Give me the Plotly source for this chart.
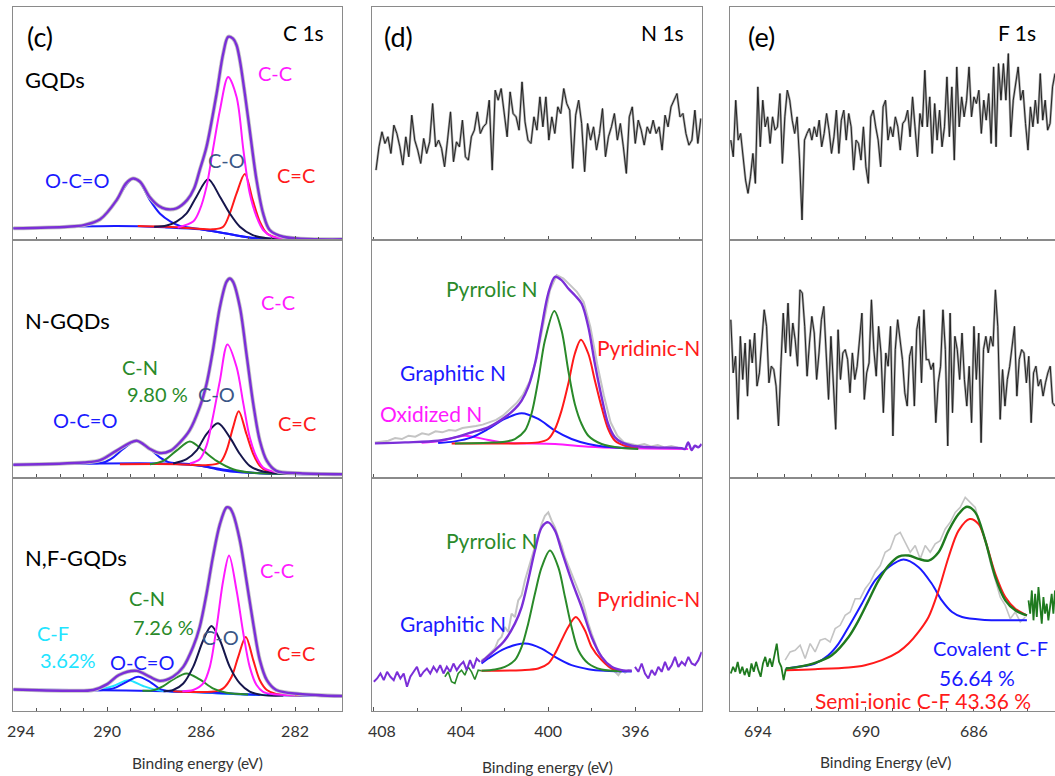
import numpy as np
import plotly.graph_objects as go

W, H = 1055, 776
FONT = "Lato, 'Open Sans', sans-serif"

# ======================= C 1s =======================
# --- GQDs ---
C1_GQD_ENV_E = [294.0, 291.7, 291.0, 290.3, 289.6, 289.2, 288.9, 288.6, 288.2, 287.8, 287.5, 287.05, 286.6, 286.3, 286.06, 285.77, 285.34, 285.06, 284.85, 284.64, 284.49, 284.35, 284.14, 283.93, 283.64, 283.36, 283.08, 282.5, 280.0]
C1_GQD_ENV_I = [5.0, 5.7, 6.4, 8.9, 17.1, 24.3, 26.4, 25.0, 18.6, 14.6, 13.3, 13.6, 17.1, 22.1, 30.0, 40.0, 62.9, 80.0, 87.2, 86.4, 83.6, 77.1, 62.9, 47.1, 25.7, 11.4, 4.3, 1.4, 0.3]
C1_GQD_BG_E = [294.0, 289.6, 287.5, 286.06, 285.0, 284.2, 283.5, 280.0]
C1_GQD_BG_I = [5.0, 6.0, 5.4, 4.6, 2.9, 1.4, 0.6, 0.3]
C1_GQD_OCO_E = [294.0, 291.0, 290.3, 289.6, 289.2, 288.89, 288.6, 288.18, 287.76, 287.3, 286.9, 286.0, 285.0, 284.0, 283.0, 280.0]
C1_GQD_OCO_I = [5.0, 6.3, 8.7, 17.1, 23.5, 26.4, 24.5, 17.1, 11.4, 7.9, 6.0, 4.6, 2.9, 1.2, 0.5, 0.3]
C1_GQD_CO_E = [288.0, 287.47, 287.05, 286.62, 286.2, 285.7, 285.2, 284.78, 284.35, 283.8, 283.2, 282.0]
C1_GQD_CO_I = [5.7, 6.2, 7.9, 11.4, 18.6, 26.1, 18.6, 11.4, 5.7, 2.1, 0.8, 0.4]
C1_GQD_CC_E = [287.0, 286.34, 286.06, 285.77, 285.5, 285.2, 284.85, 284.49, 284.2, 283.93, 283.64, 283.36, 282.95, 282.0]
C1_GQD_CC_I = [5.4, 7.9, 12.9, 22.9, 38.6, 55.7, 70.0, 61.4, 38.6, 20.0, 10.0, 4.3, 1.4, 0.5]
C1_GQD_CEC_E = [288.7, 287.0, 285.5, 285.06, 284.78, 284.49, 284.14, 283.8, 283.5, 283.2, 282.8, 281.0]
C1_GQD_CEC_I = [6.0, 5.5, 4.6, 5.7, 11.4, 20.0, 28.3, 17.1, 7.9, 2.9, 1.1, 0.4]

# --- N-GQDs ---
C1_N_ENV_E = [294.0, 291.0, 290.3, 289.6, 288.75, 288.18, 287.76, 287.3, 286.9, 286.5, 286.06, 285.77, 285.5, 285.2, 284.92, 284.78, 284.64, 284.35, 284.07, 283.78, 283.5, 283.2, 282.8, 281.8, 280.0]
C1_N_ENV_I = [5.4, 6.3, 7.3, 11.3, 15.5, 12.0, 10.3, 11.3, 14.8, 19.7, 29.6, 39.4, 53.5, 71.8, 82.4, 83.8, 82.4, 71.8, 52.1, 31.0, 15.5, 7.0, 2.8, 1.8, 1.4]
C1_N_BG_E = [294.0, 287.5, 286.06, 285.34, 284.64, 283.2, 280.0]
C1_N_BG_I = [5.4, 5.9, 4.9, 3.5, 2.4, 1.7, 1.4]
C1_N_OCO_E = [294.0, 291.0, 290.17, 289.74, 289.32, 288.75, 288.18, 287.76, 287.33, 286.5, 285.0, 283.5, 280.0]
C1_N_OCO_I = [5.4, 6.0, 6.3, 8.5, 12.0, 15.5, 12.0, 8.5, 6.3, 5.7, 3.3, 1.8, 1.4]
C1_N_CN_E = [288.18, 287.61, 287.05, 286.48, 285.91, 285.34, 284.64, 283.93, 282.5]
C1_N_CN_I = [5.6, 7.0, 11.3, 15.2, 11.3, 7.0, 3.5, 2.1, 1.6]
C1_N_CO_E = [287.19, 286.62, 286.2, 285.77, 285.28, 284.78, 284.35, 283.93, 283.36, 282.0]
C1_N_CO_I = [5.9, 7.7, 11.3, 18.3, 22.8, 16.9, 9.9, 4.9, 2.5, 1.5]
C1_N_CC_E = [286.48, 286.06, 285.77, 285.5, 285.2, 284.88, 284.49, 284.2, 283.93, 283.64, 283.36, 282.93, 281.5]
C1_N_CC_I = [5.9, 7.7, 13.4, 25.4, 40.8, 56.0, 46.5, 31.0, 16.9, 8.5, 4.2, 2.5, 1.6]
C1_N_CEC_E = [289.46, 287.0, 285.8, 285.2, 284.92, 284.64, 284.4, 284.07, 283.78, 283.5, 283.2, 282.5, 281.0]
C1_N_CEC_I = [5.6, 5.6, 5.2, 6.3, 11.3, 21.1, 27.9, 18.3, 9.9, 4.9, 2.8, 1.8, 1.5]

# --- N,F-GQDs ---
C1_NF_ENV_E = [294.0, 291.7, 290.6, 290.0, 289.5, 288.75, 288.2, 287.76, 287.2, 286.76, 286.34, 286.06, 285.77, 285.5, 285.2, 284.92, 284.78, 284.64, 284.35, 284.07, 283.78, 283.5, 283.2, 282.8, 281.8, 280.0]
C1_NF_ENV_I = [9.2, 8.7, 9.0, 11.5, 15.4, 17.2, 14.7, 12.9, 14.7, 18.9, 27.5, 36.0, 50.2, 65.9, 80.0, 87.2, 86.9, 84.4, 73.0, 55.9, 37.4, 21.8, 13.2, 9.0, 7.3, 6.4]
C1_NF_BG_E = [294.0, 290.3, 287.5, 286.06, 284.64, 283.2, 280.0]
C1_NF_BG_I = [9.2, 8.9, 8.5, 8.0, 7.3, 6.8, 6.4]
C1_NF_CF_E = [291.0, 290.31, 289.74, 289.1, 288.47, 287.9, 287.0, 286.0, 284.6, 283.2]
C1_NF_CF_I = [9.0, 9.2, 10.7, 13.2, 10.7, 9.0, 8.4, 8.0, 7.3, 6.8]
C1_NF_OCO_E = [290.6, 290.17, 289.74, 289.17, 288.68, 288.18, 287.76, 287.33, 286.5, 285.0, 283.5]
C1_NF_OCO_I = [8.9, 9.0, 9.7, 12.5, 14.7, 12.5, 9.5, 8.5, 8.2, 7.6, 6.9]
C1_NF_CN_E = [288.5, 288.04, 287.61, 287.19, 286.62, 286.06, 285.5, 284.92, 284.0]
C1_NF_CN_I = [8.7, 8.9, 10.7, 13.5, 16.1, 13.5, 9.7, 7.8, 7.1]
C1_NF_CO_E = [287.6, 287.19, 286.76, 286.34, 285.91, 285.56, 285.2, 284.78, 284.35, 283.93, 283.36, 282.5]
C1_NF_CO_I = [8.5, 9.0, 11.8, 18.9, 30.3, 36.4, 30.3, 18.9, 11.8, 8.3, 6.8, 6.6]
C1_NF_CC_E = [286.8, 286.34, 285.91, 285.63, 285.34, 285.06, 284.81, 284.49, 284.2, 283.93, 283.64, 283.36, 282.93, 282.0]
C1_NF_CC_I = [8.5, 9.0, 11.8, 18.9, 36.0, 55.9, 66.6, 51.6, 33.1, 18.9, 11.1, 8.2, 7.2, 6.8]
C1_NF_CEC_E = [287.19, 286.0, 285.34, 285.06, 284.7, 284.42, 284.1, 283.78, 283.5, 283.2, 282.8, 281.5]
C1_NF_CEC_I = [8.5, 8.1, 8.5, 9.7, 14.7, 23.2, 31.7, 21.8, 13.2, 9.0, 7.3, 6.8]

# ======================= N 1s =======================
# --- GQDs (noise only), energy grid 407.9 -> 393.0 eV ---
N1_GQD_I = [210, 280, 325, 290, 310, 260, 345, 320, 280, 225,
            310, 250, 375, 300, 270, 230, 305, 260, 295, 410,
            280, 300, 275, 220, 300, 385, 235, 295, 280, 360,
            250, 240, 310, 330, 385, 320, 340, 350, 420, 210,
            450, 420, 455, 390, 310, 445, 380, 370, 330, 475,
            355, 300, 290, 370, 330, 430, 340, 430, 300, 370,
            320, 400, 380, 455, 410, 390, 215, 375, 420, 350,
            205, 350, 300, 340, 270, 320, 395, 250, 310, 340,
            380, 300, 350, 280, 200, 370, 400, 290, 360, 330,
            285, 340, 320, 360, 320, 340, 270, 375, 340, 400,
            420, 440, 370, 380, 320, 285, 300, 390, 290, 365]

# --- N-GQDs ---
N1_N_RAW_I = [105, 108, 110, 118, 115, 125, 122, 132, 128, 138,
              135, 142, 140, 148, 150, 154, 158, 165, 172, 185,
              203, 222, 248, 288, 355, 458, 560, 605, 595, 575,
              555, 525, 450, 340, 245, 165, 125, 105, 100, 96,
              100, 93, 97, 90, 94, 89]
N1_N_ENV_E = [407.95, 406.57, 405.05, 404.28, 403.51, 402.75, 401.99, 401.53, 401.22, 400.92, 400.61, 400.30, 400.0, 399.69, 399.39, 399.08, 398.78, 398.47, 398.16, 397.86, 397.55, 397.25, 396.94, 396.63, 396.17, 395.11, 393.88, 393.73, 393.58, 393.42, 393.27, 393.12, 392.96]
N1_N_ENV_I = [102, 105, 110, 120, 135, 150, 180, 205, 230, 270, 340, 450, 550, 600, 590, 565, 545, 520, 450, 340, 240, 160, 120, 105, 95, 90, 88, 85, 105, 82, 95, 90, 100]
N1_N_OX_E = [405.81, 404.89, 403.82, 402.75, 401.99, 399.69, 398.16, 396.63, 393.58]
N1_N_OX_I = [104, 110, 125, 112, 104, 100, 92, 88, 85]
N1_N_GR_E = [405.05, 404.28, 403.51, 402.75, 401.99, 401.22, 400.46, 399.69, 398.93, 398.16, 397.40, 396.17]
N1_N_GR_I = [103, 108, 120, 145, 175, 192, 175, 140, 115, 100, 92, 88]
N1_N_PY_E = [404.28, 402.75, 401.99, 401.53, 401.07, 400.77, 400.46, 400.15, 399.72, 399.39, 399.08, 398.78, 398.47, 398.16, 397.55, 396.63, 395.87]
N1_N_PY_I = [102, 104, 107, 115, 140, 190, 290, 410, 498, 440, 320, 220, 160, 125, 100, 88, 85]
N1_N_PD_E = [404.43, 401.53, 400.46, 400.0, 399.69, 399.39, 399.08, 398.78, 398.5, 398.16, 397.86, 397.55, 397.25, 396.94, 396.48, 395.87]
N1_N_PD_I = [102, 102, 105, 115, 145, 200, 280, 370, 412, 370, 290, 210, 145, 110, 95, 90]

# --- N,F-GQDs ---
N1_NF_LEFT_I = [88, 98, 113, 93, 118, 103, 93, 118, 98, 113,
                73, 103, 118, 133, 103, 118, 128, 113, 133, 118,
                138, 113, 133, 118, 143, 123, 138, 148, 123, 153,
                128, 158, 148]
N1_NF_GNOISE_I = [103, 118, 88, 83, 113, 123, 108, 133, 118, 95, 123, 121]
N1_NF_RAW_I = [153, 158, 168, 178, 188, 213, 223, 253, 238, 293,
               283, 333, 348, 393, 428, 463, 498, 533, 563, 588,
               598, 573, 553, 523, 498, 463, 438, 408, 383, 363,
               338, 303, 263, 233, 203, 178, 163, 148, 133, 128,
               118, 108, 123, 115, 123, 121]
N1_NF_ENV_E = [403.06, 402.44, 401.99, 401.53, 401.22, 400.92, 400.61, 400.30, 400.0, 399.69, 399.39, 398.93, 398.47, 398.01, 397.55, 397.09, 396.63, 396.17]
N1_NF_ENV_I = [148, 183, 213, 263, 313, 393, 483, 553, 568, 543, 483, 393, 313, 223, 163, 133, 123, 121]
N1_NF_RIGHT_I = [133, 118, 143, 113, 98, 123, 108, 133, 118, 148, 123, 138, 163, 133, 148, 138, 163, 143, 138, 153, 178]
N1_NF_GR_E = [403.06, 402.75, 401.99, 401.07, 400.30, 399.69, 398.93, 398.16, 397.40, 396.17]
N1_NF_GR_I = [143, 158, 188, 203, 188, 163, 138, 126, 121, 119]
N1_NF_PY_E = [403.06, 402.44, 401.99, 401.53, 401.22, 400.92, 400.61, 400.30, 399.92, 399.54, 399.23, 398.93, 398.62, 398.16, 397.55, 396.63]
N1_NF_PY_I = [121, 125, 133, 153, 193, 263, 353, 433, 483, 433, 343, 253, 183, 143, 125, 120]
N1_NF_PD_E = [403.06, 401.22, 400.46, 400.0, 399.69, 399.39, 399.08, 398.73, 398.32, 398.01, 397.55, 397.09, 396.63]
N1_NF_PD_I = [121, 123, 128, 143, 173, 213, 253, 283, 243, 193, 153, 128, 121]

# ======================= F 1s =======================
F1_GQD_I = [300, 250, 420, 300, 320, 250, 180, 140, 190, 260,
            170, 460, 280, 420, 340, 370, 290, 370, 330, 340,
            440, 230, 370, 450, 420, 360, 320, 370, 240, 60,
            300, 320, 335, 300, 340, 310, 360, 280, 320, 380,
            330, 260, 310, 390, 260, 360, 390, 300, 380, 340,
            210, 300, 290, 240, 340, 220, 170, 370, 390, 340,
            300, 220, 400, 420, 300, 340, 310, 370, 340, 270,
            350, 360, 390, 310, 430, 340, 250, 380, 340, 510,
            340, 430, 260, 410, 300, 390, 280, 340, 490, 310,
            460, 240, 520, 340, 430, 370, 420, 520, 370, 430,
            410, 450, 320, 420, 360, 440, 290, 520, 280, 530,
            420, 530, 420, 560, 310, 420, 470, 520, 420, 450,
            350, 270, 400, 340, 420, 350, 500, 360, 420, 330,
            350, 460, 500]
F1_N_I = [475, 315, 365, 175, 425, 295, 405, 245, 415, 345,
          435, 275, 315, 415, 505, 455, 285, 335, 325, 275,
          155, 335, 495, 375, 525, 365, 465, 415, 335, 565,
          555, 455, 305, 405, 485, 435, 295, 375, 475, 515,
          355, 235, 425, 285, 145, 445, 295, 375, 385, 355,
          255, 375, 295, 335, 405, 495, 235, 315, 345, 535,
          385, 305, 455, 375, 195, 375, 335, 455, 125, 385,
          475, 415, 355, 255, 215, 365, 395, 215, 445, 485,
          285, 505, 355, 355, 325, 345, 165, 285, 335, 505,
          385, 95, 495, 195, 425, 385, 295, 435, 295, 215,
          335, 165, 455, 295, 435, 105, 385, 425, 375, 425,
          395, 565, 455, 175, 325, 215, 295, 335, 395, 455,
          245, 355, 385, 375, 285, 365, 165, 315, 335, 275,
          295, 245, 285, 315, 335, 225, 215]
F1_NF_LEFT_I = [113, 133, 118, 148, 113, 133, 108, 128, 103, 143,
                118, 148, 123, 103, 143, 163, 133, 158, 133, 173,
                203, 148, 133, 93, 128]
F1_NF_RAW_I = [153, 178, 183, 198, 158, 203, 178, 213, 218, 208,
               248, 258, 288, 298, 338, 338, 368, 388, 418, 438,
               478, 488, 528, 538, 508, 478, 498, 458, 498, 478,
               503, 513, 548, 568, 598, 613, 643, 628, 613, 558,
               518, 448, 398, 343, 318, 278, 298, 268, 283]
F1_NF_ENV_E = [692.96, 692.5, 691.88, 691.26, 690.64, 690.27, 689.9, 689.53, 689.16, 688.79, 688.42, 688.05, 687.68, 687.31, 686.94, 686.57, 686.26, 685.95, 685.58, 685.21, 684.84, 684.47, 684.04]
F1_NF_ENV_I = [128, 133, 145, 168, 223, 273, 333, 393, 438, 465, 468, 458, 453, 478, 543, 593, 615, 598, 513, 403, 333, 303, 288]
F1_NF_RIGHT_I = [333, 293, 363, 273, 353, 283, 373, 303, 263, 343, 293, 323, 273, 313, 353, 293, 363]
F1_NF_COV_E = [692.96, 692.5, 691.88, 691.39, 691.01, 690.64, 690.15, 689.66, 689.16, 688.61, 688.05, 687.56, 687.19, 686.81, 686.44, 685.7, 684.04]
F1_NF_COV_I = [128, 133, 143, 168, 203, 253, 323, 393, 433, 456, 433, 383, 333, 298, 283, 275, 273]
F1_NF_SEMI_E = [692.96, 691.88, 690.64, 690.03, 689.41, 688.79, 688.42, 688.05, 687.68, 687.31, 686.94, 686.57, 686.16, 685.83, 685.58, 685.21, 684.84, 684.47, 684.04]
F1_NF_SEMI_I = [123, 126, 131, 138, 153, 178, 203, 238, 283, 363, 463, 543, 578, 563, 513, 413, 343, 308, 288]

# ======================= styling =======================
PURPLE = "#7b2fd8"
MAGENTA = "#ff1aff"
RED = "#ff1a1a"
NAVY = "#16164c"
BLUE = "#1a1aff"
GREEN = "#2a8a2a"
FGREEN = "#1f7a1f"
CYAN = "#22e4ff"
GRAY = "#c4c4c4"
AX = "#8a8a8a"

COLS = [dict(dom=(13.3, 342.0), rng=[294.0, 280.0], major=[294, 290, 286, 282],
             text=["", "290", "286", "282"], minor=1),
        dict(dom=(372.3, 701.7), rng=[408.07, 392.96], major=[408, 404, 400, 396],
             text=["", "404", "400", "396"], minor=2),
        dict(dom=(730.0, 1055.0), rng=[695.03, 683.0], major=[694, 690, 686],
             text=["694", "690", "686"], minor=1)]
ROWS = [(7.0, 240.0), (240.0, 477.5), (477.5, 711.0)]
YR = {1: 100, 2: 700, 3: 700, 4: 100, 5: 710, 6: 715, 7: 100, 8: 703, 9: 703}

fig = go.Figure()


def ax_name(n):
    return ("x" if n == 1 else f"x{n}"), ("y" if n == 1 else f"y{n}")


def add(n, x, y, color, width=2.0, smooth=True):
    xa, ya = ax_name(n)
    fig.add_trace(go.Scatter(
        x=x, y=y, mode="lines", xaxis=xa, yaxis=ya, hoverinfo="skip", showlegend=False,
        line=dict(color=color, width=width, shape="spline" if smooth else "linear",
                  smoothing=0.9 if smooth else None)))


def noise(n, e0, e1, vals):
    e = np.linspace(e0, e1, len(vals))
    add(n, e, vals, "#a8a8a8", 2.4, smooth=False)
    add(n, e, vals, "#222222", 1.0, smooth=False)


# ---- panel 1: C1s GQDs
add(1, C1_GQD_BG_E, C1_GQD_BG_I, BLUE, 2.0)
add(1, C1_GQD_OCO_E, C1_GQD_OCO_I, BLUE, 2.0)
add(1, C1_GQD_CEC_E, C1_GQD_CEC_I, RED, 2.0)
add(1, C1_GQD_CO_E, C1_GQD_CO_I, NAVY, 2.0)
add(1, C1_GQD_CC_E, C1_GQD_CC_I, MAGENTA, 2.0)
add(1, C1_GQD_ENV_E, C1_GQD_ENV_I, GRAY, 4.0)
add(1, C1_GQD_ENV_E, C1_GQD_ENV_I, PURPLE, 2.4)

# ---- panel 4: C1s N-GQDs
add(4, C1_N_BG_E, C1_N_BG_I, BLUE, 2.0)
add(4, C1_N_OCO_E, C1_N_OCO_I, BLUE, 2.0)
add(4, C1_N_CEC_E, C1_N_CEC_I, RED, 2.0)
add(4, C1_N_CN_E, C1_N_CN_I, GREEN, 2.0)
add(4, C1_N_CO_E, C1_N_CO_I, NAVY, 2.0)
add(4, C1_N_CC_E, C1_N_CC_I, MAGENTA, 2.0)
add(4, C1_N_ENV_E, C1_N_ENV_I, GRAY, 4.0)
add(4, C1_N_ENV_E, C1_N_ENV_I, PURPLE, 2.4)

# ---- panel 7: C1s N,F-GQDs
add(7, C1_NF_BG_E, C1_NF_BG_I, BLUE, 2.0)
add(7, C1_NF_CF_E, C1_NF_CF_I, CYAN, 2.0)
add(7, C1_NF_OCO_E, C1_NF_OCO_I, BLUE, 2.0)
add(7, C1_NF_CEC_E, C1_NF_CEC_I, RED, 2.0)
add(7, C1_NF_CN_E, C1_NF_CN_I, GREEN, 2.0)
add(7, C1_NF_CO_E, C1_NF_CO_I, NAVY, 2.0)
add(7, C1_NF_CC_E, C1_NF_CC_I, MAGENTA, 2.0)
add(7, C1_NF_ENV_E, C1_NF_ENV_I, GRAY, 4.0)
add(7, C1_NF_ENV_E, C1_NF_ENV_I, PURPLE, 2.4)

# ---- panel 2: N1s GQDs (noise)
noise(2, 407.9, 393.0, N1_GQD_I)

# ---- panel 5: N1s N-GQDs
add(5, np.linspace(407.95, 394.05, len(N1_N_RAW_I)), N1_N_RAW_I, GRAY, 2.0, smooth=False)
add(5, N1_N_OX_E, N1_N_OX_I, MAGENTA, 2.0)
add(5, N1_N_GR_E, N1_N_GR_I, BLUE, 2.0)
add(5, N1_N_PD_E, N1_N_PD_I, RED, 2.0)
add(5, N1_N_PY_E, N1_N_PY_I, GREEN, 2.0)
add(5, N1_N_ENV_E, N1_N_ENV_I, PURPLE, 2.4)

# ---- panel 8: N1s N,F-GQDs
add(8, np.linspace(403.06, 396.17, len(N1_NF_RAW_I)), N1_NF_RAW_I, GRAY, 2.0, smooth=False)
add(8, np.linspace(404.74, 403.06, len(N1_NF_GNOISE_I)), N1_NF_GNOISE_I, GREEN, 1.6, smooth=False)
add(8, N1_NF_GR_E, N1_NF_GR_I, BLUE, 2.0)
add(8, N1_NF_PD_E, N1_NF_PD_I, RED, 2.0)
add(8, N1_NF_PY_E, N1_NF_PY_I, GREEN, 2.0)
add(8, np.linspace(408.0, 403.13, len(N1_NF_LEFT_I)), N1_NF_LEFT_I, PURPLE, 2.0, smooth=False)
add(8, N1_NF_ENV_E, N1_NF_ENV_I, PURPLE, 2.4)
add(8, np.linspace(396.02, 392.96, len(N1_NF_RIGHT_I)), N1_NF_RIGHT_I, PURPLE, 2.0, smooth=False)

# ---- panels 3, 6: F1s noise
noise(3, 695.0, 683.0, F1_GQD_I)
noise(6, 695.0, 683.0, F1_N_I)

# ---- panel 9: F1s N,F-GQDs
add(9, np.linspace(692.99, 684.1, len(F1_NF_RAW_I)), F1_NF_RAW_I, GRAY, 1.6, smooth=False)
add(9, F1_NF_COV_E, F1_NF_COV_I, BLUE, 2.0)
add(9, F1_NF_SEMI_E, F1_NF_SEMI_I, RED, 2.0)
add(9, np.linspace(695.0, 692.96, len(F1_NF_LEFT_I)), F1_NF_LEFT_I, FGREEN, 1.8, smooth=False)
add(9, F1_NF_ENV_E, F1_NF_ENV_I, FGREEN, 2.4)
add(9, np.linspace(683.98, 683.0, len(F1_NF_RIGHT_I)), F1_NF_RIGHT_I, FGREEN, 1.8, smooth=False)

# ---- axes
layout = {}
for r in range(3):
    for c in range(3):
        n = r * 3 + c + 1
        sfx = "" if n == 1 else str(n)
        col = COLS[c]
        top, bot = ROWS[r]
        layout["xaxis" + sfx] = dict(
            domain=[col["dom"][0] / W, col["dom"][1] / W], range=col["rng"],
            anchor="y" + sfx, showline=True, mirror=True, linecolor=AX, linewidth=1.3,
            ticks="inside", ticklen=4, tickwidth=1.2, tickcolor="#555",
            tickmode="array", tickvals=col["major"], ticktext=col["text"],
            showticklabels=(r == 2), ticklabelstandoff=6,
            tickfont=dict(family=FONT, size=16, color="#333"),
            minor=dict(ticks="inside", ticklen=3, tickwidth=1, tickcolor="#555",
                       tickmode="linear", tick0=0, dtick=col["minor"]),
            showgrid=False, zeroline=False, fixedrange=True)
        layout["yaxis" + sfx] = dict(
            domain=[1 - bot / H, 1 - top / H], range=[0, YR[n]],
            anchor="x" + sfx, showline=True, mirror=True, linecolor=AX, linewidth=1.3,
            ticks="", showticklabels=False, showgrid=False, zeroline=False, fixedrange=True)

fig.update_layout(width=W, height=H, margin=dict(l=0, r=0, t=0, b=0),
                  paper_bgcolor="white", plot_bgcolor="white", template="none",
                  font=dict(family=FONT), **layout)


def label(text, x, y, color="#000000", size=20, xanchor="center"):
    fig.add_annotation(text=text, x=x / W, y=1 - y / H, xref="paper", yref="paper",
                       xanchor=xanchor, yanchor="middle", showarrow=False,
                       font=dict(family=FONT, size=size, color=color))


LBL_CO = "#3b5786"
LBL_GREEN = "#2a8a2a"

# column C 1s
label("(c)", 40, 36, size=27)
label("C 1s", 303, 33, size=21)
label("GQDs", 23, 80, size=22, xanchor="left")
label("C-C", 275, 73, MAGENTA)
label("O-C=O", 77, 180, BLUE)
label("C-O", 226, 160, LBL_CO)
label("C=C", 296, 175, RED)

label("N-GQDs", 23, 320, size=22, xanchor="left")
label("C-C", 278, 302, MAGENTA)
label("C-N", 140, 367, LBL_GREEN)
label("9.80 %", 157, 394, LBL_GREEN)
label("C-O", 216, 394, LBL_CO)
label("O-C=O", 85, 420, BLUE)
label("C=C", 297, 423, RED)

label("N,F-GQDs", 23, 557, size=22, xanchor="left")
label("C-C", 277, 570, MAGENTA)
label("C-N", 147, 598, LBL_GREEN)
label("7.26 %", 163, 627, LBL_GREEN)
label("C-F", 53, 633, CYAN)
label("3.62%", 68, 660, CYAN)
label("O-C=O", 142, 662, BLUE)
label("C-O", 220, 637, LBL_CO)
label("C=C", 296, 653, RED)

# column N 1s
label("(d)", 398, 36, size=27)
label("N 1s", 662, 33, size=21)
label("Pyrrolic N", 492, 288, LBL_GREEN, 21)
label("Pyridinic-N", 648, 347, RED, 21)
label("Graphitic N", 453, 372, BLUE, 21)
label("Oxidized N", 431, 413, MAGENTA, 21)
label("Pyrrolic N", 492, 540, LBL_GREEN, 21)
label("Pyridinic-N", 648, 598, RED, 21)
label("Graphitic N", 453, 623, BLUE, 21)

# column F 1s
label("(e)", 761, 36, size=27)
label("F 1s", 1017, 33, size=21)
label("Covalent C-F", 931, 648, BLUE, 20, xanchor="left")
label("56.64 %", 937, 677, BLUE, 21, xanchor="left")
label("Semi-ionic C-F 43.36 %", 923, 700, RED, 21)

# edge tick labels and axis titles
label("294", 21, 730, "#333", 16)
label("408", 382, 730, "#333", 16)
label("Binding energy (eV)", 197, 763, "#333", 15.5)
label("Binding energy (eV)", 547, 767, "#333", 15.5)
label("Binding Energy (eV)", 885, 762, "#333", 15.5)

fig.write_html("out.html", include_plotlyjs=True, config={"displayModeBar": False})
